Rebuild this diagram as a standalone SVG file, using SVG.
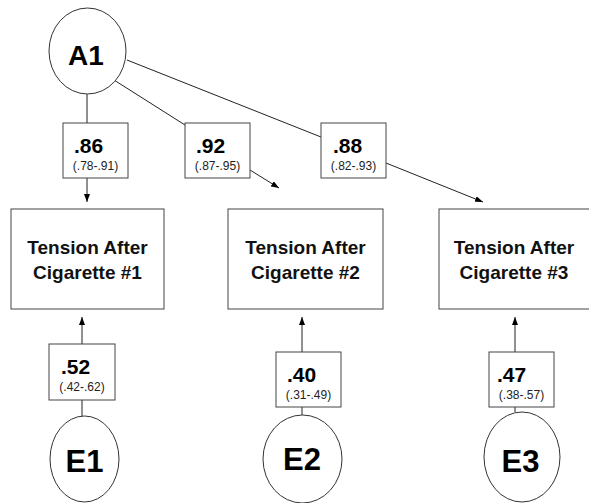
<svg xmlns="http://www.w3.org/2000/svg" width="589" height="503" viewBox="0 0 589 503">
<style>
.node{fill:#fff;stroke:#333;stroke-width:1}
.box{fill:#fff;stroke:#444;stroke-width:1}
.conn line{stroke:#222;stroke-width:1}
.big{font-family:"Liberation Sans",Arial,sans-serif;font-weight:bold;fill:#000;text-anchor:middle}
.lbl{font-family:"Liberation Sans",Arial,sans-serif;font-weight:bold;font-size:19px;fill:#111;text-anchor:middle}
.val{font-family:"Liberation Sans",Arial,sans-serif;font-weight:bold;font-size:21px;fill:#000}
.ci{font-family:"Liberation Sans",Arial,sans-serif;font-size:12px;fill:#222;text-anchor:middle}
</style>
<defs>
<marker id="arr" viewBox="0 0 8 6" refX="8" refY="3" markerWidth="8" markerHeight="6" markerUnits="userSpaceOnUse" orient="auto">
<path d="M0,0 L8,3 L0,6 Z" fill="#000"/>
</marker>
</defs>
<rect width="589" height="503" fill="#fff"/>
<g id="connectors" class="conn">
<line x1="87" y1="94" x2="87" y2="123"/>
<line x1="87" y1="178" x2="87" y2="202" marker-end="url(#arr)"/>
<line x1="114" y1="80" x2="185" y2="125"/>
<line x1="250" y1="170" x2="279" y2="188" marker-end="url(#arr)"/>
<line x1="127" y1="60" x2="321" y2="137"/>
<line x1="386" y1="163" x2="483" y2="202" marker-end="url(#arr)"/>
<line x1="82" y1="416" x2="82" y2="400"/>
<line x1="82" y1="344" x2="82" y2="317" marker-end="url(#arr)"/>
<line x1="302" y1="415" x2="302" y2="407"/>
<line x1="302" y1="352" x2="302" y2="317" marker-end="url(#arr)"/>
<line x1="515" y1="412" x2="515" y2="407"/>
<line x1="515" y1="352" x2="515" y2="317" marker-end="url(#arr)"/>
</g>
<g id="A1">
<ellipse class="node" cx="87.5" cy="51" rx="38.5" ry="43"/>
<text class="big" x="86" y="65" font-size="28">A1</text>
</g>
<g id="T1">
<rect class="box" x="11" y="209" width="153" height="100"/>
<text class="lbl" x="87.5" y="254">Tension After</text>
<text class="lbl" x="87.5" y="279">Cigarette #1</text>
</g>
<g id="T2">
<rect class="box" x="228" y="209" width="155" height="100"/>
<text class="lbl" x="305.5" y="254">Tension After</text>
<text class="lbl" x="305.5" y="279">Cigarette #2</text>
</g>
<g id="T3">
<rect class="box" x="439" y="209" width="156" height="100"/>
<text class="lbl" x="514" y="254">Tension After</text>
<text class="lbl" x="514" y="279">Cigarette #3</text>
</g>
<g id="L86">
<rect class="box" x="63" y="123" width="65" height="55"/>
<text class="val" x="74" y="153">.86</text>
<text class="ci" x="95.5" y="170">(.78-.91)</text>
</g>
<g id="L92">
<rect class="box" x="185" y="123" width="65" height="55"/>
<text class="val" x="196" y="153">.92</text>
<text class="ci" x="217.5" y="170">(.87-.95)</text>
</g>
<g id="L88">
<rect class="box" x="321" y="123" width="65" height="55"/>
<text class="val" x="333" y="153">.88</text>
<text class="ci" x="353.5" y="170">(.82-.93)</text>
</g>
<g id="L52">
<rect class="box" x="49" y="344" width="66" height="56"/>
<text class="val" x="61" y="374">.52</text>
<text class="ci" x="82" y="391">(.42-.62)</text>
</g>
<g id="L40">
<rect class="box" x="276" y="352" width="65" height="55"/>
<text class="val" x="287" y="382">.40</text>
<text class="ci" x="308.5" y="399">(.31-.49)</text>
</g>
<g id="L47">
<rect class="box" x="489" y="352" width="65" height="55"/>
<text class="val" x="497" y="382">.47</text>
<text class="ci" x="521.5" y="399">(.38-.57)</text>
</g>
<g id="E1">
<ellipse class="node" cx="84.5" cy="459" rx="34.5" ry="43"/>
<text class="big" x="84.5" y="472" font-size="31">E1</text>
</g>
<g id="E2">
<ellipse class="node" cx="302.5" cy="459" rx="39.5" ry="44"/>
<text class="big" x="302" y="470" font-size="31">E2</text>
</g>
<g id="E3">
<ellipse class="node" cx="522" cy="457" rx="38" ry="45"/>
<text class="big" x="520.5" y="472" font-size="31">E3</text>
</g>
</svg>
